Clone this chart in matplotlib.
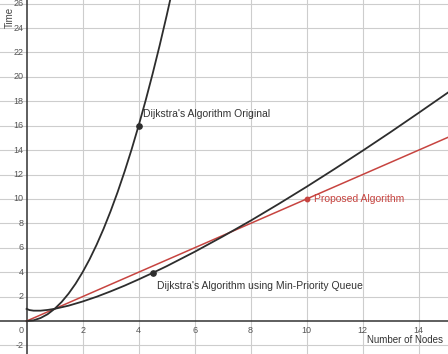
import matplotlib.pyplot as plt

plt.rcParams['font.family'] = ['Liberation Sans', 'DejaVu Sans']

# values
orig_x = [0, 0.25, 0.5, 0.75, 1, 1.25, 1.5, 1.75, 2, 2.25, 2.5, 2.75, 3,
          3.25, 3.5, 3.75, 4, 4.25, 4.5, 4.75, 5, 5.25]
orig_y = [0, 0.06, 0.25, 0.56, 1, 1.56, 2.25, 3.06, 4, 5.06, 6.25, 7.56, 9,
          10.56, 12.25, 14.06, 16, 18.06, 20.25, 22.56, 25, 27.56]

heap_x = [0, 0.1, 0.25, 0.5, 0.75, 1, 1.5, 2, 2.5, 3, 3.5, 4, 4.5, 5, 6, 7,
          8, 9, 10, 11, 12, 13, 14, 15, 15.5]
heap_y = [1.0, 0.9, 0.85, 0.85, 0.91, 1.0, 1.26, 1.60, 1.99, 2.43, 2.90,
          3.41, 3.94, 4.49, 5.67, 6.92, 8.22, 9.59, 11.0, 12.46, 13.95,
          15.48, 17.05, 18.64, 19.44]

prop_x = [0, 15.5]
prop_y = [0, 15.5]

orig_pt = (4, 16)
heap_pt = (4.5, 3.94)
prop_pt = (10, 10)

x_ticks = [2, 4, 6, 8, 10, 12, 14]
y_ticks = [-2, 2, 4, 6, 8, 10, 12, 14, 16, 18, 20, 22, 24, 26]

BLACK = "#2d2d2d"
RED = "#c74440"
GRID = "#cdcdcd"
TICK = "#555555"

fig = plt.figure(figsize=(4.48, 3.54), dpi=100)
ax = fig.add_axes([0, 0, 1, 1])
ax.set_xlim(-0.95, 15.05)
ax.set_ylim(-2.7, 26.3)
for s in ax.spines.values():
    s.set_visible(False)
ax.set_xticks([])
ax.set_yticks([])

# grid
for v in range(-2, 16, 2):
    if v != 0:
        ax.axvline(v, color=GRID, lw=0.8, zorder=0)
for v in range(-2, 28, 2):
    if v != 0:
        ax.axhline(v, color=GRID, lw=0.8, zorder=0)
ax.axhline(0, color="#333333", lw=1.1, zorder=1)
ax.axvline(0, color="#333333", lw=1.1, zorder=1)

# tick labels
for v in x_ticks:
    ax.text(v, -0.74, str(v), ha="center", va="center", fontsize=6.5, color=TICK)
for v in y_ticks:
    ax.text(-0.1, v, str(v), ha="right", va="center", fontsize=6.5, color=TICK)
ax.text(-0.2, -0.74, "0", ha="center", va="center", fontsize=6.5, color=TICK)

# curves
ax.plot(orig_x, orig_y, color=BLACK, lw=1.3, zorder=3)
ax.plot(heap_x, heap_y, color=BLACK, lw=1.3, zorder=3)
ax.plot(prop_x, prop_y, color=RED, lw=1.1, zorder=2)

ax.plot(*orig_pt, "o", color=BLACK, ms=3.8, zorder=4)
ax.plot(*heap_pt, "o", color=BLACK, ms=3.8, zorder=4)
ax.plot(*prop_pt, "o", color=RED, ms=3.2, zorder=4)

ax.annotate("Dijkstra's Algorithm Original", xy=orig_pt, xytext=(4, 12),
            textcoords="offset pixels", ha="left", va="center",
            fontsize=7.5, color="#333333")
ax.annotate("Dijkstra's Algorithm using Min-Priority Queue", xy=heap_pt,
            xytext=(4, -13), textcoords="offset pixels", ha="left",
            va="center", fontsize=7.5, color="#333333")
ax.annotate("Proposed Algorithm", xy=prop_pt, xytext=(7, 0),
            textcoords="offset pixels", ha="left", va="center",
            fontsize=7.5, color=RED)

# axis titles
ax.text(10, 337, "Time", rotation=90, ha="center", va="center", fontsize=7,
        color="#444444", transform=None)
ax.text(405, 14, "Number of Nodes", ha="center", va="center", fontsize=7,
        color="#333333", transform=None)

fig.savefig("out.png", dpi=100)
